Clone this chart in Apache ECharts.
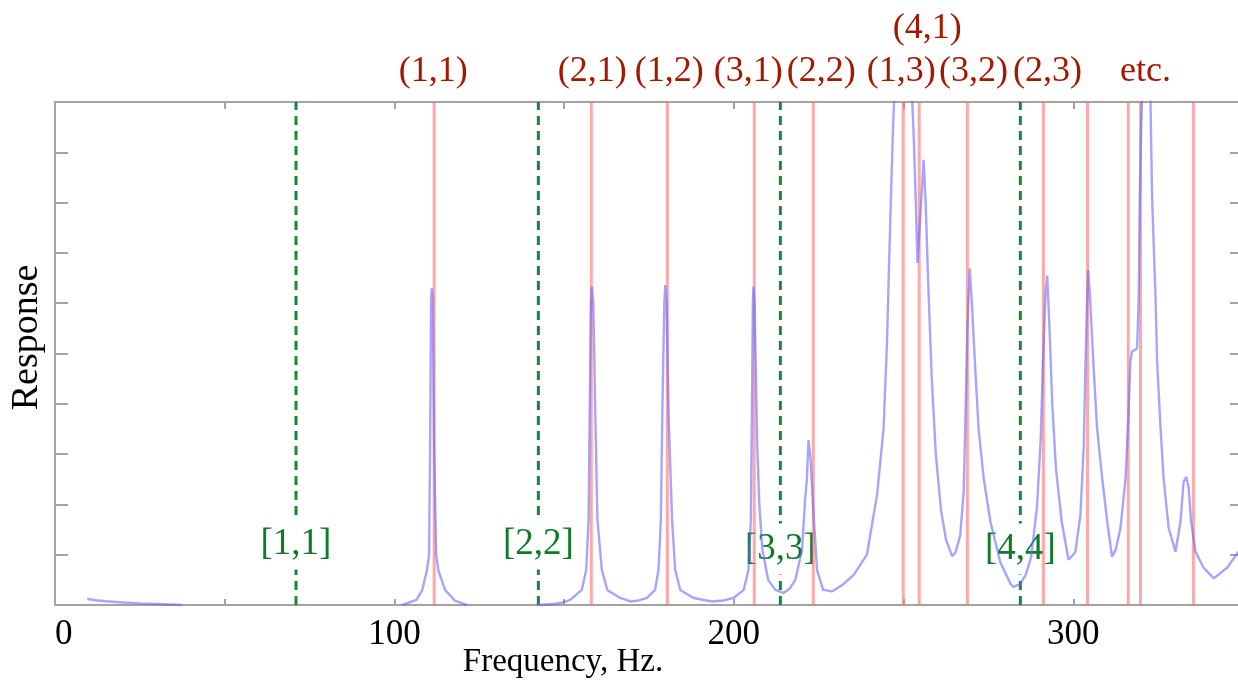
<!DOCTYPE html>
<html>
<head>
<meta charset="utf-8">
<script src="https://cdn.jsdelivr.net/npm/echarts@6/dist/echarts.min.js"></script>
<style>
html,body{margin:0;padding:0;background:#fff;}
#chart{width:1238px;height:681px;}
</style>
</head>
<body>
<div id="chart"></div>
<script>
// ---------- data ----------
const freq = [
  9.5, 12, 15, 20, 25, 30, 37.4, 60,
  102.3, 106.5, 108.2, 109.6, 110.2, 110.5, 110.8, 111.0, 111.3, 111.7, 112.3, 112.9, 114.9, 117.9, 121.4, 130,
  142.1, 147, 149.7, 151.8, 155.2, 156.5, 157.2, 157.5, 157.9, 158.2, 158.6, 159.2, 159.8, 161.1, 162.7, 166.5, 169.5,
  172, 174.4, 176.8, 177.8, 178.5, 178.9, 179.5, 179.8, 180.2, 180.8, 181.8, 182.7, 184.2, 188.1, 193.5,
  197, 199.9, 202.9, 204.3, 205.0, 205.3, 205.6, 205.8, 206.1, 206.9, 207.5, 208.4, 210.1, 212.2, 214.6,
  216.5, 218.1, 220.1, 221.0, 221.5, 222.0, 222.6, 223.4, 224.5, 226.3, 228.9,
  232, 235.3, 239.2, 242.2, 244.1, 245.1, 246.1, 246.9, 247.3, 249, 250.5, 252, 252.5, 253.0, 253.6, 254.1, 255.0, 255.9,
  256.5, 257.2, 258.3, 259.5, 261.0, 262.5, 264.3,
  265.3, 266.7, 267.7, 268.2, 268.8, 269.5, 270.2, 271.1, 272.1, 273.6, 275.6, 278.5, 281.5, 282.4,
  284.4, 286.0, 287.6, 289.3, 290.4, 291.1, 291.8, 292.3, 293.0, 293.8, 294.9, 296.6, 298.6,
  300.6, 302.1, 303.1, 303.6, 304.1, 304.4, 305.0, 306.0, 307.0, 308.5, 310.0, 311.4,
  312.5, 313.9, 315.4, 316.3, 316.8, 317.3, 318.8, 319.3, 319.6, 320.0, 320.3, 321.3, 322.0, 322.7, 323.2,
  324.2, 324.7, 325.7, 326.6, 328.1, 330.1, 331.6, 332.5, 333.3, 334.0, 334.7, 336.0, 338.4, 341.4, 345.3, 348.7, 350
];
const resp = [
  0.12, 0.095, 0.075, 0.05, 0.033, 0.02, 0.0, null,
  0.0, 0.1, 0.3, 0.7, 1.0, 3.1, 6.1, 6.3, 6.1, 3.1, 1.0, 0.7, 0.3, 0.08, 0.0, null,
  0.0, 0.02, 0.05, 0.1, 0.3, 0.7, 1.7, 3.7, 6.0, 6.33, 6.0, 3.7, 1.7, 0.7, 0.3, 0.14, 0.07,
  0.09, 0.14, 0.3, 0.7, 1.7, 3.7, 6.0, 6.36, 6.0, 3.7, 1.7, 0.7, 0.3, 0.14, 0.07,
  0.09, 0.14, 0.3, 0.7, 1.7, 3.7, 6.0, 6.33, 6.0, 3.14, 2.0, 1.1, 0.5, 0.3, 0.24,
  0.33, 0.5, 1.1, 2.1, 2.5, 3.28, 2.9, 1.9, 0.7, 0.3, 0.27,
  0.4, 0.6, 1.0, 2.2, 3.5, 5.2, 7.7, 9.5, 10.2, 13, 14, 12.5, 10.1, 9.3, 8.0, 6.8, 7.8, 8.85,
  8.0, 6.5, 4.5, 3.0, 1.9, 1.3, 0.97,
  1.05, 1.39, 2.25, 3.64, 5.5, 6.69, 5.9, 4.71, 3.5, 2.52, 1.65, 0.85, 0.42, 0.36,
  0.42, 0.6, 0.96, 1.95, 3.3, 4.9, 6.16, 6.55, 5.5, 4.0, 2.7, 1.65, 0.9,
  1.05, 1.79, 3.18, 4.84, 6.1, 6.66, 6.03, 4.71, 3.52, 2.52, 1.66, 0.96,
  1.1, 1.53, 2.52, 3.84, 4.84, 5.04, 5.1, 6.16, 8.15, 9.48, 10.2, 13, 12.5, 10.2, 8.15,
  6.16, 4.84, 3.52, 2.52, 1.53, 1.06, 1.66, 2.45, 2.55, 2.32, 1.66, 1.06, 0.74, 0.53, 0.74, 1.06, 1.2
];
// room / plate modes (red lines)
const modeFreqs  = [111.7, 158.0, 180.4, 206.0, 223.4, 249.9, 254.6, 268.8, 291.2, 304.2, 316.2, 319.8, 335.4];
const modeLabels = ['(1,1)', '(2,1)', '(1,2)', '(3,1)', '(2,2)', '(1,3)', '(4,1)', '(3,2)', '(2,3)', '', '', 'etc.', ''];
// rigid modes (green dashed lines)
const rigidFreqs  = [71.0, 142.4, 213.7, 284.4];
const rigidLabels = ['[1,1]', '[2,2]', '[3,3]', '[4,4]'];
// axis
const xTickLabels = [0, 100, 200, 300];
const yMin = 0, yMax = 10;

// ---------- styles ----------
const FONT = 'Liberation Serif';
const AXIS_GRAY = '#a3a3a3';
const RED_TXT = '#a31800';
const GREEN_TXT = '#0f7a2a';
// label placement (pixels) per mode label: [dx, dy]
const modeLabelOffset = {
  '(1,1)': [-1, -30], '(2,1)': [1, -30], '(1,2)': [2, -30], '(3,1)': [-6, -30], '(2,2)': [8, -30],
  '(1,3)': [-2, -30], '(4,1)': [8, -73], '(3,2)': [6, -30], '(2,3)': [4, -30], 'etc.': [5, -30]
};
const rigidLabelOffset = {'[1,1]': -61, '[2,2]': -61, '[3,3]': -56, '[4,4]': -56};

const curveData = freq.map((f, i) => [f, resp[i] === null ? '-' : resp[i]]);
// vertical segments for each mode line, separated by gaps
const rigidLineData = [];
rigidFreqs.forEach(f => { rigidLineData.push([f, yMin], [f, yMax], [f, '-']); });
const modeLineData = [];
modeFreqs.forEach(f => { modeLineData.push([f, yMin], [f, yMax], [f, '-']); });

const chart = echarts.init(document.getElementById('chart'), null, {renderer: 'canvas'});

const baseX = {
  type: 'value', min: 0, max: 350, interval: 50,
  splitLine: {show: false},
  axisLine: {show: true, onZero: false, lineStyle: {color: AXIS_GRAY, width: 2}},
};
const baseY = {
  type: 'value', min: yMin, max: yMax, interval: 1,
  splitLine: {show: false},
  axisLine: {show: true, onZero: false, lineStyle: {color: AXIS_GRAY, width: 2}},
  axisLabel: {show: false}
};

chart.setOption({
  animation: false,
  backgroundColor: '#fff',
  grid: {left: 55, right: -5, top: 102, bottom: 76, containLabel: false, outerBoundsMode: 'none'},
  xAxis: [
    Object.assign({}, baseX, {
      position: 'bottom',
      axisTick: {show: true, inside: true, length: 6, lineStyle: {color: AXIS_GRAY, width: 2}},
      axisLabel: {
        show: true, margin: 12, color: '#000', fontFamily: FONT, fontSize: 35,
        alignMinLabel: 'left',
        formatter: v => (xTickLabels.indexOf(v) >= 0 ? String(v) : '')
      },
      name: 'Frequency, Hz.', nameLocation: 'middle', nameGap: 41, nameMoveOverlap: false,
      nameTextStyle: {color: '#000', fontFamily: FONT, fontSize: 33, padding: [0, 172, 0, 0]}
    }),
    Object.assign({}, baseX, {
      position: 'top',
      axisTick: {show: true, inside: true, length: 7, lineStyle: {color: AXIS_GRAY, width: 2}},
      axisLabel: {show: false}
    })
  ],
  yAxis: [
    Object.assign({}, baseY, {
      position: 'left',
      axisTick: {show: true, inside: true, length: 13, lineStyle: {color: AXIS_GRAY, width: 2}},
      name: 'Response', nameLocation: 'middle', nameGap: 9, nameMoveOverlap: false,
      nameTextStyle: {color: '#000', fontFamily: FONT, fontSize: 38, padding: [0, 0, 0, 32]}
    }),
    Object.assign({}, baseY, {
      position: 'right',
      axisTick: {show: true, inside: true, length: 13, lineStyle: {color: AXIS_GRAY, width: 2}}
    })
  ],
  series: [
    { // green dashed rigid-mode lines
      type: 'line', z: 1, silent: true, data: rigidLineData, showSymbol: false, symbol: 'none',
      connectNulls: false,
      lineStyle: {color: '#16863a', width: 3, type: [9, 6]}
    },
    { // green labels with white background
      type: 'scatter', z: 2, silent: true, clip: false, symbol: 'circle', symbolSize: 1,
      itemStyle: {color: 'rgba(0,0,0,0)', opacity: 1},
      data: rigidFreqs.map((f, i) => ({
        value: [f, yMin],
        label: {
          show: true, position: 'inside', formatter: rigidLabels[i],
          offset: [0, rigidLabelOffset[rigidLabels[i]]],
          color: GREEN_TXT, fontFamily: FONT, fontSize: 37,
          backgroundColor: '#ffffff', padding: [8, 2, 6, 2], textBorderWidth: 0
        }
      }))
    },
    { // red mode lines
      type: 'line', z: 3, silent: true, data: modeLineData, showSymbol: false, symbol: 'none',
      connectNulls: false,
      lineStyle: {color: 'rgba(255,110,110,0.6)', width: 3}
    },
    { // response curve
      type: 'line', z: 4, data: curveData, showSymbol: false, symbol: 'none',
      connectNulls: false, clip: true, smooth: false,
      lineStyle: {color: 'rgba(100,100,255,0.58)', width: 2.4}
    },
    { // red mode labels
      type: 'scatter', z: 5, silent: true, clip: false, symbol: 'circle', symbolSize: 1,
      itemStyle: {color: 'rgba(0,0,0,0)', opacity: 1},
      data: modeFreqs.map((f, i) => ({f: f, t: modeLabels[i]})).filter(d => d.t).map(d => ({
        value: [d.f, yMax],
        label: {
          show: true, position: 'inside', formatter: d.t,
          offset: modeLabelOffset[d.t],
          color: RED_TXT, fontFamily: FONT, fontSize: 36, textBorderWidth: 0
        }
      }))
    }
  ]
});
</script>
</body>
</html>
